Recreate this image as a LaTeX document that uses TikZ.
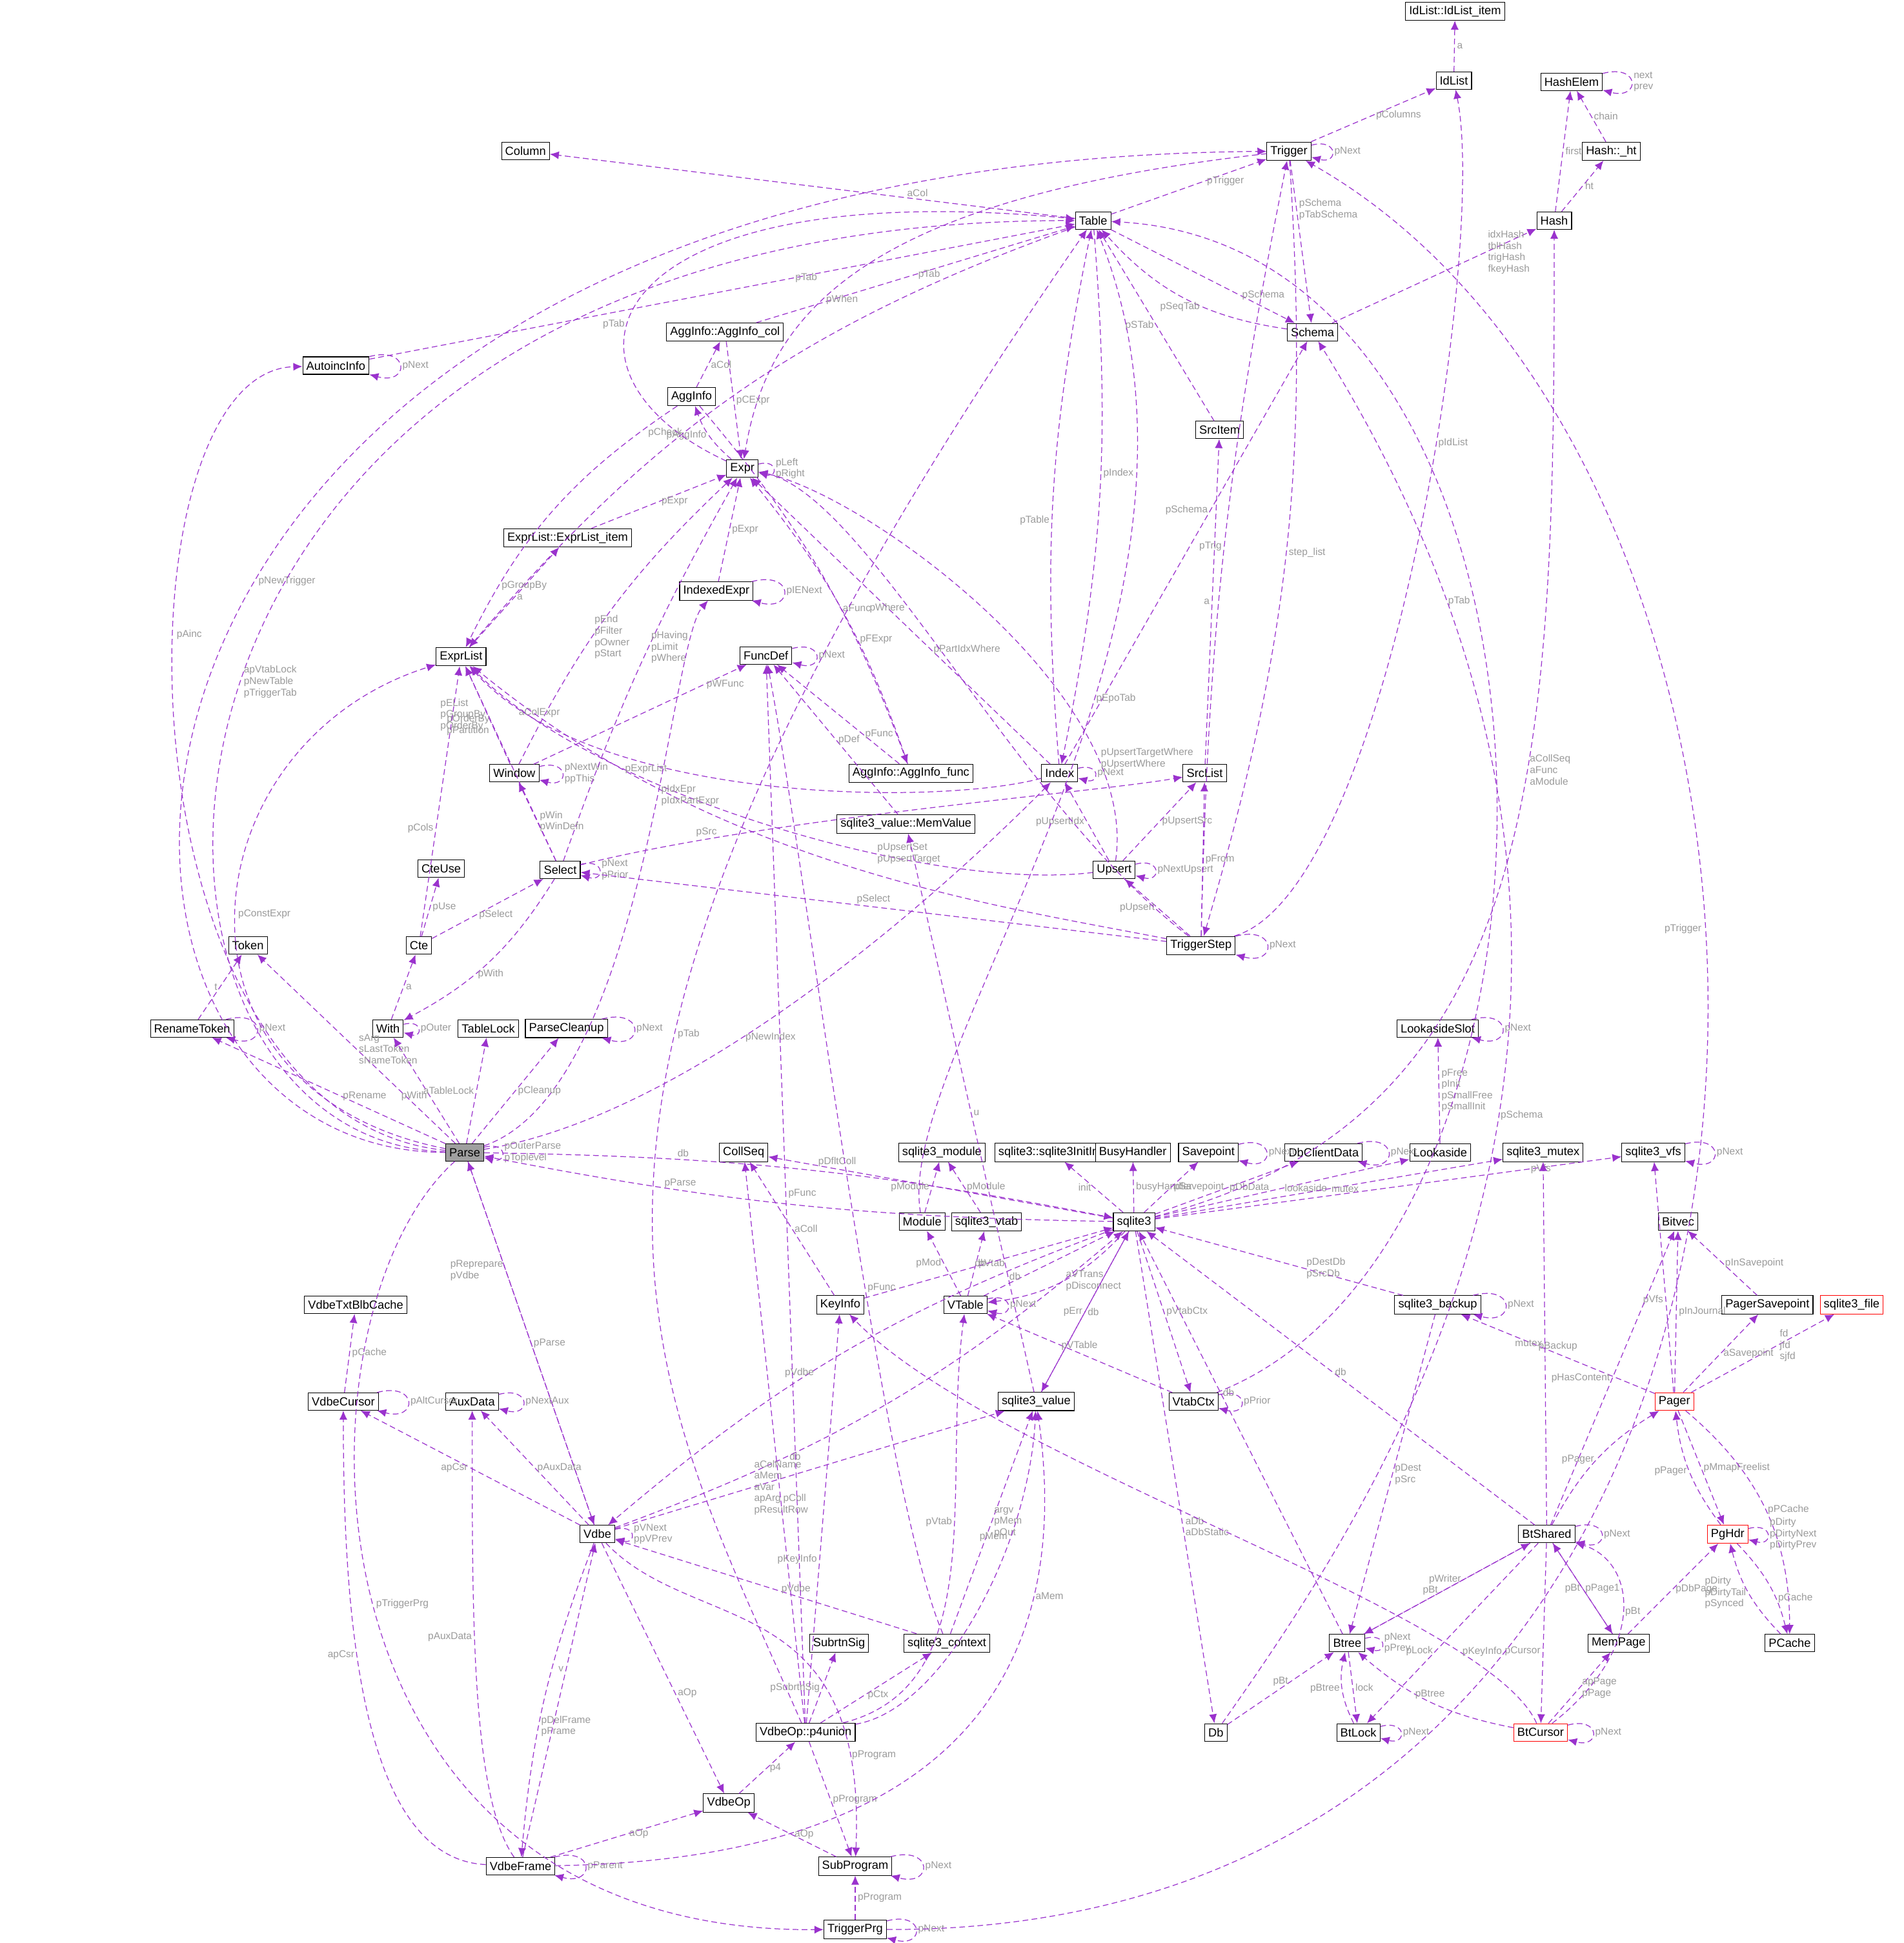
\documentclass[tikz,border=0pt]{standalone}
\usepackage{fontspec}
\setmainfont{Liberation Sans}
\usetikzlibrary{arrows.meta}
\definecolor{dxedge}{HTML}{9A32CD}
\definecolor{dxlbl}{HTML}{9A9A9A}
\tikzstyle{box} = [draw=black, fill=white, font=\fontsize{5.2}{6}\selectfont, inner sep=1.6pt, minimum height=0.27cm, line width=0.3pt]
\tikzstyle{edge} = [draw=dxedge, line width=0.35pt, -{Latex[length=4pt,width=3.5pt]}, dash pattern=on 2.5pt off 1.5pt]
\tikzstyle{lbl} = [font=\fontsize{4.4}{5}\selectfont, text=dxlbl, align=left, inner sep=1pt]
\tikzstyle{self} = [edge, loop right, min distance=2.5mm, looseness=6]

\begin{document}
\begin{tikzpicture}[x=0.0192cm, y=-0.0192cm]
\useasboundingbox (0,0) rectangle (1536,1568);

% nodes, top to bottom
\node[box] (IdListItem) at (1174,9) {IdList::IdList\_item};
\node[box] (IdList) at (1173,65) {IdList};
\node[box] (HashElem) at (1268,66) {HashElem};
\node[box] (HashHt) at (1300,122) {Hash::\_ht};
\node[box] (Column) at (424,122) {Column};
\node[box] (Trigger) at (1040,122) {Trigger};
\node[box] (Table) at (882,178) {Table};
\node[box] (Hash) at (1254,178) {Hash};
\node[box] (AggCol) at (585,268) {AggInfo::AggInfo\_col};
\node[box] (Schema) at (1059,268) {Schema};
\node[box] (Autoinc) at (271,295) {AutoincInfo};
\node[box] (AggInfo) at (558,320) {AggInfo};
\node[box] (SrcItem) at (984,347) {SrcItem};
\node[box] (Expr) at (599,378) {Expr};
\node[box] (ExprItem) at (458,434) {ExprList::ExprList\_item};
\node[box] (IdxExpr) at (578,477) {IndexedExpr};
\node[box] (FuncDef) at (618,529) {FuncDef};
\node[box] (ExprList) at (372,530) {ExprList};
\node[box] (Window) at (415,624) {Window};
\node[box] (AggFunc) at (735,624) {AggInfo::AggInfo\_func};
\node[box] (Index) at (855,624) {Index};
\node[box] (SrcList) at (972,624) {SrcList};
\node[box] (MemValue) at (731,665) {sqlite3\_value::MemValue};
\node[box] (CteUse) at (356,701) {CteUse};
\node[box] (Select) at (452,702) {Select};
\node[box] (Upsert) at (899,702) {Upsert};
\node[box] (Cte) at (338,763) {Cte};
\node[box] (Token) at (200,763) {Token};
\node[box] (TrigStep) at (969,763) {TriggerStep};
\node[box] (RenTok) at (155,830) {RenameToken};
\node[box] (With) at (313,830) {With};
\node[box] (TableLock) at (394,830) {TableLock};
\node[box] (Cleanup) at (457,830) {ParseCleanup};
\node[box] (LaSlot) at (1160,830) {LookasideSlot};
\node[box, fill=gray!75] (Parse) at (375,930) {Parse};
\node[box] (CollSeq) at (600,930) {CollSeq};
\node[box] (Mod3) at (760,930) {sqlite3\_module};
\node[box] (InitInfo) at (850,930) {sqlite3::sqlite3InitInfo};
\node[box] (Busy) at (914,930) {BusyHandler};
\node[box] (Savept) at (975,930) {Savepoint};
\node[box] (DbClient) at (1068,930) {DbClientData};
\node[box] (Lookaside) at (1162,930) {Lookaside};
\node[box] (Mutex) at (1245,930) {sqlite3\_mutex};
\node[box] (Vfs) at (1334,930) {sqlite3\_vfs};
\node[box] (Module) at (744,986) {Module};
\node[box] (Vtab) at (796,986) {sqlite3\_vtab};
\node[box] (Db3) at (915,986) {sqlite3};
\node[box] (Bitvec) at (1354,986) {Bitvec};
\node[box] (KeyInfo) at (678,1053) {KeyInfo};
\node[box] (VTable) at (779,1053) {VTable};
\node[box] (Backup) at (1160,1053) {sqlite3\_backup};
\node[box] (PagerSp) at (1426,1053) {PagerSavepoint};
\node[box, draw=red] (File) at (1494,1053) {sqlite3\_file};
\node[box] (TxtCache) at (287,1053) {VdbeTxtBlbCache};
\node[box] (Cursor) at (277,1131) {VdbeCursor};
\node[box] (AuxData) at (381,1131) {AuxData};
\node[box] (Value) at (836,1131) {sqlite3\_value};
\node[box] (VtabCtx) at (963,1131) {VtabCtx};
\node[box, draw=red] (Pager) at (1351,1131) {Pager};
\node[box] (Vdbe) at (482,1238) {Vdbe};
\node[box] (BtShared) at (1248,1238) {BtShared};
\node[box, draw=red] (PgHdr) at (1394,1238) {PgHdr};
\node[box] (SubSig) at (677,1326) {SubrtnSig};
\node[box] (Ctx) at (764,1326) {sqlite3\_context};
\node[box] (Btree) at (1087,1326) {Btree};
\node[box] (MemPage) at (1306,1326) {MemPage};
\node[box] (PCache) at (1444,1326) {PCache};
\node[box] (P4) at (650,1398) {VdbeOp::p4union};
\node[box] (Db) at (981,1398) {Db};
\node[box] (BtLock) at (1096,1398) {BtLock};
\node[box, draw=red] (BtCursor) at (1243,1398) {BtCursor};
\node[box] (VdbeOp) at (588,1455) {VdbeOp};
\node[box] (Frame) at (420,1506) {VdbeFrame};
\node[box] (SubProg) at (690,1506) {SubProgram};
\node[box] (TrigPrg) at (690,1557) {TriggerPrg};

% top area
\draw[edge] (IdList) -- node[lbl, right]{a} (IdListItem);
\draw[edge] (Trigger) -- node[lbl, right]{pColumns} (IdList);
\draw[edge] (HashElem) to[self] node[lbl, right]{next\\prev} (HashElem);
\draw[edge] (HashHt) -- node[lbl, right]{chain} (HashElem);
\draw[edge] (Hash) -- node[lbl, right]{first} (HashElem);
\draw[edge] (Hash) -- node[lbl, right]{ht} (HashHt);
\draw[edge] (Table) -- node[lbl, pos=0.3, above]{aCol} (Column);
\draw[edge] (Trigger) to[self] node[lbl, right]{pNext} (Trigger);
\draw[edge] (Table) -- node[lbl, right, pos=0.6]{pTrigger} (Trigger);
\draw[edge] (Trigger) -- node[lbl, right, pos=0.3]{pSchema\\pTabSchema} (Schema);
\draw[edge] (Schema) to[bend left=20] node[lbl, left, pos=0.4]{pSeqTab} (Table);
\draw[edge] (Table) -- node[lbl, right, pos=0.7]{pSchema} (Schema);
\draw[edge] (Schema) -- node[lbl, right, pos=0.75]{idxHash\\tblHash\\trigHash\\fkeyHash} (Hash);
\draw[edge] (AggCol) -- node[lbl, right]{pTab} (Table);
\draw[edge] (AggCol) -- node[lbl, right]{pCExpr} (Expr);
\draw[edge] (AggInfo) -- node[lbl, right]{aCol} (AggCol);
\draw[edge] (AggInfo) to[bend left=10] node[lbl, right, pos=0.6]{aFunc} (AggFunc);
\draw[edge] (Expr) to[bend left=15] node[lbl, left]{pAggInfo} (AggInfo);
\draw[edge] (Expr) to[self] node[lbl, right]{pLeft\\pRight} (Expr);
\draw[edge] (Expr) .. controls (430,300) and (480,140) .. node[lbl, left, pos=0.4]{pTab} (Table);
\draw[edge] (ExprItem) -- node[lbl, right]{pExpr} (Expr);
\draw[edge] (ExprList) -- node[lbl, right]{a} (ExprItem);
\draw[edge] (IdxExpr) -- node[lbl, right]{pExpr} (Expr);
\draw[edge] (IdxExpr) to[self] node[lbl, right]{pIENext} (IdxExpr);
\draw[edge] (FuncDef) to[self] node[lbl, right]{pNext} (FuncDef);
\draw[edge] (AggFunc) -- node[lbl, right, pos=0.3]{pFunc} (FuncDef);
\draw[edge] (AggFunc) to[bend right=10] node[lbl, right, pos=0.4]{pFExpr} (Expr);
\draw[edge] (Table) to[bend right=15] node[lbl, left, pos=0.6]{pCheck} (ExprList);
\draw[edge] (AggInfo) to[bend right=15] node[lbl, right, pos=0.8]{pGroupBy} (ExprList);

% middle
\draw[edge] (Window) -- node[lbl, left, pos=0.4]{pOrderBy\\pPartition} (ExprList);
\draw[edge] (Window) to[self] node[lbl, right]{pNextWin\\ppThis} (Window);
\draw[edge] (Window) to[bend left=10] node[lbl, right, pos=0.4]{pEnd\\pFilter\\pOwner\\pStart} (Expr);
\draw[edge] (Window) -- node[lbl, right, pos=0.8]{pWFunc} (FuncDef);
\draw[edge] (Index) to[bend left=8] node[lbl, left, pos=0.45]{pTable} (Table);
\draw[edge] (Table) to[bend left=8] node[lbl, right, pos=0.45]{pIndex} (Index);
\draw[edge] (Index) to[self] node[lbl, right]{pNext} (Index);
\draw[edge] (Index) -- node[lbl, right, pos=0.4]{pPartIdxWhere} (Expr);
\draw[edge] (Index) .. controls (760,650) and (480,650) .. node[lbl, above, pos=0.85]{aColExpr} (ExprList);
\draw[edge] (Index) -- node[lbl, left, pos=0.6]{pSchema} (Schema);
\draw[edge] (SrcItem) -- node[lbl, left, pos=0.5]{pSTab} (Table);
\draw[edge] (SrcList) -- node[lbl, left]{a} (SrcItem);
\draw[edge] (Select) -- node[lbl, left, pos=0.75]{pEList\\pGroupBy\\pOrderBy} (ExprList);
\draw[edge] (Select) to[bend left=5] node[lbl, right, pos=0.55]{pHaving\\pLimit\\pWhere} (Expr);
\draw[edge] (Select) to[self] node[lbl, right]{pNext\\pPrior} (Select);
\draw[edge] (Select) -- node[lbl, right]{pWin\\pWinDefn} (Window);
\draw[edge] (Select) .. controls (620,660) and (880,640) .. node[lbl, above, pos=0.2]{pSrc} (SrcList);
\draw[edge] (Select) to[bend left=15] node[lbl, right, pos=0.6]{pWith} (With);
\draw[edge] (Upsert) to[self] node[lbl, right]{pNextUpsert} (Upsert);
\draw[edge] (Upsert) .. controls (920,560) and (700,400) .. node[lbl, right, pos=0.2]{pUpsertTargetWhere\\pUpsertWhere} (Expr);
\draw[edge] (Upsert) .. controls (750,720) and (480,640) .. node[lbl, right, pos=0.35]{pUpsertSet\\pUpsertTarget} (ExprList);
\draw[edge] (Upsert) -- node[lbl, left, pos=0.5]{pUpsertIdx} (Index);
\draw[edge] (Upsert) -- node[lbl, right, pos=0.5]{pUpsertSrc} (SrcList);
\draw[edge] (Cte) -- node[lbl, right]{pUse} (CteUse);
\draw[edge] (Cte) -- node[lbl, right, pos=0.4]{pSelect} (Select);
\draw[edge] (Cte) -- node[lbl, left, pos=0.4]{pCols} (ExprList);
\draw[edge] (TrigStep) to[bend left=5] node[lbl, left, pos=0.5]{pTrig} (Trigger);
\draw[edge] (Trigger) to[bend left=10] node[lbl, right, pos=0.5]{step\_list} (TrigStep);
\draw[edge] (Trigger) .. controls (700,160) and (620,250) .. node[lbl, right, pos=0.6]{pWhen} (Expr);
\draw[edge] (TrigStep) .. controls (1120,720) and (1200,200) .. node[lbl, right, pos=0.6]{pIdList} (IdList);
\draw[edge] (TrigStep) to[self] node[lbl, right]{pNext} (TrigStep);
\draw[edge] (TrigStep) -- node[lbl, above, pos=0.5]{pSelect} (Select);
\draw[edge] (TrigStep) -- node[lbl, left, pos=0.5]{pUpsert} (Upsert);
\draw[edge] (TrigStep) -- node[lbl, right, pos=0.5]{pFrom} (SrcList);
\draw[edge] (TrigStep) .. controls (800,730) and (580,700) .. node[lbl, right, pos=0.8]{pExprList} (ExprList);
\draw[edge] (TrigStep) .. controls (820,650) and (700,400) .. node[lbl, left, pos=0.6]{pWhere} (Expr);
\draw[edge] (RenTok) -- node[lbl, left]{t} (Token);
\draw[edge] (RenTok) to[self] node[lbl, right]{pNext} (RenTok);
\draw[edge] (With) -- node[lbl, right]{a} (Cte);
\draw[edge] (With) to[self] node[lbl, right]{pOuter} (With);
\draw[edge] (Cleanup) to[self] node[lbl, right]{pNext} (Cleanup);
\draw[edge] (LaSlot) to[self] node[lbl, right]{pNext} (LaSlot);
\draw[edge] (Lookaside) -- node[lbl, right]{pFree\\pInit\\pSmallFree\\pSmallInit} (LaSlot);

% Parse
\draw[edge] (Parse) .. controls (5,930) and (5,130) .. node[lbl, right, pos=0.55]{pNewTrigger} (Trigger);
\draw[edge] (Parse) .. controls (55,920) and (55,178) .. node[lbl, right, pos=0.5]{apVtabLock\\pNewTable\\pTriggerTab} (Table);
\draw[edge] (Parse) .. controls (90,900) and (90,300) .. node[lbl, right, pos=0.6]{pAinc} (Autoinc);
\draw[edge] (Autoinc) -- node[lbl, right, pos=0.6]{pTab} (Table);
\draw[edge] (Autoinc) to[self] node[lbl, right]{pNext} (Autoinc);
\draw[edge] (Parse) .. controls (120,880) and (150,600) .. node[lbl, right, pos=0.5]{pConstExpr} (ExprList);
\draw[edge] (Parse) .. controls (520,880) and (540,520) .. node[lbl, right, pos=0.6]{pIdxEpr\\pIdxPartExpr} (IdxExpr);
\draw[edge] (Parse) .. controls (560,900) and (760,720) .. node[lbl, right, pos=0.4]{pNewIndex} (Index);
\draw[edge] (Parse) -- node[lbl, right, pos=0.5]{sArg\\sLastToken\\sNameToken} (Token);
\draw[edge] (Parse) -- node[lbl, right, pos=0.45]{pRename} (RenTok);
\draw[edge] (Parse) -- node[lbl, left, pos=0.45]{pWith} (With);
\draw[edge] (Parse) -- node[lbl, left, pos=0.5]{aTableLock} (TableLock);
\draw[edge] (Parse) -- node[lbl, right, pos=0.5]{pCleanup} (Cleanup);
\draw[edge] (Parse) to[self] node[lbl, right]{pOuterParse\\pToplevel} (Parse);
\draw[edge] (Parse) to[bend left=5] node[lbl, above, pos=0.3]{db} (Db3);
\draw[edge] (Db3) to[bend left=5] node[lbl, above, pos=0.7]{pParse} (Parse);
\draw[edge] (Parse) -- node[lbl, left, pos=0.3]{pReprepare\\pVdbe} (Vdbe);
\draw[edge] (Vdbe) -- node[lbl, right, pos=0.5]{pParse} (Parse);
\draw[edge] (Parse) .. controls (230,1060) and (230,1560) .. node[lbl, right, pos=0.5]{pTriggerPrg} (TrigPrg);

% sqlite3
\draw[edge] (Db3) -- node[lbl, above, pos=0.8]{pDfltColl} (CollSeq);
\draw[edge] (Module) -- node[lbl, left]{pModule} (Mod3);
\draw[edge] (Vtab) -- node[lbl, right]{pModule} (Mod3);
\draw[edge] (Db3) -- node[lbl, left]{init} (InitInfo);
\draw[edge] (Db3) -- node[lbl, right]{busyHandler} (Busy);
\draw[edge] (Db3) -- node[lbl, right]{pSavepoint} (Savept);
\draw[edge] (Savept) to[self] node[lbl, right]{pNext} (Savept);
\draw[edge] (Db3) -- node[lbl, right]{pDbData} (DbClient);
\draw[edge] (DbClient) to[self] node[lbl, right]{pNext} (DbClient);
\draw[edge] (Db3) -- node[lbl, right]{lookaside} (Lookaside);
\draw[edge] (Db3) -- node[lbl, right]{mutex} (Mutex);
\draw[edge] (Db3) -- node[lbl, right, pos=0.8]{pVfs} (Vfs);
\draw[edge] (Vfs) to[self] node[lbl, right]{pNext} (Vfs);
\draw[edge] (Db3) .. controls (1250,900) and (1254,600) .. node[lbl, right, pos=0.6]{aCollSeq\\aFunc\\aModule} (Hash);
\draw[edge] (Db3) to[bend left=20] node[lbl, right, pos=0.5]{aVTrans\\pDisconnect} (VTable);
\draw[edge] (Db3) -- node[lbl, right, pos=0.6]{aDb\\aDbStatic} (Db);
\draw[edge] (Db3) -- node[lbl, left, pos=0.5]{pErr} (Value);
\draw[edge] (Db3) -- node[lbl, right, pos=0.5]{pVtabCtx} (VtabCtx);
\draw[edge] (Db3) to[bend right=10] node[lbl, above, pos=0.6]{pVdbe} (Vdbe);
\draw[edge] (Vdbe) to[bend right=10] node[lbl, right, pos=0.3]{db} (Db3);
\draw[edge] (Module) .. controls (720,850) and (1010,500) .. node[lbl, right, pos=0.6]{pEpoTab} (Table);
\draw[edge] (VTable) -- node[lbl, left, pos=0.3]{db} (Db3);
\draw[edge] (VTable) -- node[lbl, left]{pMod} (Module);
\draw[edge] (VTable) -- node[lbl, right]{pVtab} (Vtab);
\draw[edge] (VTable) to[self] node[lbl, right]{pNext} (VTable);
\draw[edge] (VtabCtx) -- node[lbl, above, pos=0.5]{pVTable} (VTable);
\draw[edge] (VtabCtx) .. controls (1300,1000) and (1290,200) .. node[lbl, left, pos=0.6]{pTab} (Table);
\draw[edge] (VtabCtx) to[self] node[lbl, right]{pPrior} (VtabCtx);
\draw[edge] (KeyInfo) -- node[lbl, right]{aColl} (CollSeq);
\draw[edge] (KeyInfo) -- node[lbl, left, pos=0.5]{db} (Db3);
\draw[edge] (Backup) -- node[lbl, right, pos=0.4]{pDestDb\\pSrcDb} (Db3);
\draw[edge] (Backup) to[self] node[lbl, right]{pNext} (Backup);
\draw[edge] (Backup) -- node[lbl, right, pos=0.5]{pDest\\pSrc} (Btree);

% pager side
\draw[edge] (PagerSp) -- node[lbl, right]{pInSavepoint} (Bitvec);
\draw[edge] (Pager) -- node[lbl, right, pos=0.6]{fd\\jfd\\sjfd} (File);
\draw[edge] (Pager) -- node[lbl, left, pos=0.4]{pVfs} (Vfs);
\draw[edge] (Pager) -- node[lbl, right, pos=0.5]{pInJournal} (Bitvec);
\draw[edge] (Pager) -- node[lbl, right, pos=0.5]{aSavepoint} (PagerSp);
\draw[edge] (Pager) -- node[lbl, above, pos=0.5]{pBackup} (Backup);
\draw[edge] (Pager) -- node[lbl, right, pos=0.5]{pMmapFreelist} (PgHdr);
\draw[edge] (Pager) to[bend left=25] node[lbl, right, pos=0.5]{pPCache} (PCache);
\draw[edge] (Cursor) -- node[lbl, right]{pCache} (TxtCache);
\draw[edge] (Cursor) to[self] node[lbl, right]{pAltCursor} (Cursor);
\draw[edge] (AuxData) to[self] node[lbl, right]{pNextAux} (AuxData);
\draw[edge] (Value) -- node[lbl, right, pos=0.5]{db} (Db3);
\draw[edge] (Value) -- node[lbl, right, pos=0.5]{u} (MemValue);
\draw[edge] (MemValue) -- node[lbl, right, pos=0.5]{pDef} (FuncDef);
\draw[edge] (Vdbe) -- node[lbl, right, pos=0.35]{aColName\\aMem\\aVar\\apArg\\pResultRow} (Value);
\draw[edge] (Vdbe) -- node[lbl, left, pos=0.5]{apCsr} (Cursor);
\draw[edge] (Vdbe) -- node[lbl, right, pos=0.5]{pAuxData} (AuxData);
\draw[edge] (Vdbe) to[self] node[lbl, right]{pVNext\\ppVPrev} (Vdbe);
\draw[edge] (Vdbe) -- node[lbl, right, pos=0.6]{aOp} (VdbeOp);
\draw[edge] (Vdbe) to[bend right=8] node[lbl, right, pos=0.6]{pDelFrame\\pFrame} (Frame);
\draw[edge] (Vdbe) .. controls (560,1320) and (700,1280) .. node[lbl, right, pos=0.85]{pProgram} (SubProg);
\draw[edge] (BtShared) -- node[lbl, above, pos=0.5]{db} (Db3);
\draw[edge] (BtShared) to[bend left=15] node[lbl, left, pos=0.5]{pPager} (Pager);
\draw[edge] (BtShared) to[self] node[lbl, right]{pNext} (BtShared);
\draw[edge] (BtShared) -- node[lbl, left, pos=0.5]{pHasContent} (Bitvec);
\draw[edge] (BtShared) -- node[lbl, left, pos=0.5]{mutex} (Mutex);
\draw[edge] (BtShared) -- node[lbl, right, pos=0.5]{pPage1} (MemPage);
\draw[edge] (BtShared) -- node[lbl, left, pos=0.6]{pCursor} (BtCursor);
\draw[edge] (BtShared) -- node[lbl, left, pos=0.6]{pLock} (BtLock);
\draw[edge] (BtShared) -- node[lbl, left, pos=0.4]{pWriter} (Btree);
\draw[edge] (Db) .. controls (1120,1200) and (1390,800) .. node[lbl, right, pos=0.55]{pSchema} (Schema);
\draw[edge] (PgHdr) to[bend left=15] node[lbl, left, pos=0.5]{pPager} (Pager);
\draw[edge] (PgHdr) to[self] node[lbl, right]{pDirty\\pDirtyNext\\pDirtyPrev} (PgHdr);
\draw[edge] (PgHdr) to[bend left=15] node[lbl, right, pos=0.65]{pCache} (PCache);
\draw[edge] (PCache) to[bend left=15] node[lbl, left, pos=0.5]{pDirty\\pDirtyTail\\pSynced} (PgHdr);
\draw[edge] (MemPage) -- node[lbl, right, pos=0.5]{pDbPage} (PgHdr);
\draw[edge] (MemPage) -- node[lbl, left, pos=0.5]{pBt} (BtShared);
\draw[edge] (Ctx) -- node[lbl, above, pos=0.4]{pVdbe} (Vdbe);
\draw[edge] (Ctx) -- node[lbl, right, pos=0.5]{argv\\pMem\\pOut} (Value);
\draw[edge] (Ctx) .. controls (710,1200) and (650,700) .. node[lbl, right, pos=0.4]{pFunc} (FuncDef);
\draw[edge] (Btree) -- node[lbl, right, pos=0.6]{db} (Db3);
\draw[edge] (Btree) -- node[lbl, above, pos=0.4]{pBt} (BtShared);
\draw[edge] (Btree) to[self] node[lbl, right]{pNext\\pPrev} (Btree);
\draw[edge] (Btree) -- node[lbl, right, pos=0.5]{lock} (BtLock);
\draw[edge] (BtLock) to[bend left=20] node[lbl, left, pos=0.5]{pBtree} (Btree);
\draw[edge] (BtLock) to[self] node[lbl, right]{pNext} (BtLock);
\draw[edge] (Db) -- node[lbl, above, pos=0.5]{pBt} (Btree);
\draw[edge] (BtCursor) to[bend left=15] node[lbl, above, pos=0.5]{pBtree} (Btree);
\draw[edge] (BtCursor) .. controls (1330,1330) and (1320,1260) .. node[lbl, right, pos=0.5]{pBt} (BtShared);
\draw[edge] (BtCursor) -- node[lbl, right, pos=0.5]{apPage\\pPage} (MemPage);
\draw[edge] (BtCursor) .. controls (1200,1300) and (800,1180) .. node[lbl, right, pos=0.2]{pKeyInfo} (KeyInfo);
\draw[edge] (BtCursor) to[self] node[lbl, right]{pNext} (BtCursor);

% VdbeOp::p4union and bottom
\draw[edge] (P4) -- node[lbl, right, pos=0.4]{pColl} (CollSeq);
\draw[edge] (P4) -- node[lbl, left, pos=0.4]{pKeyInfo} (KeyInfo);
\draw[edge] (P4) -- node[lbl, right, pos=0.5]{pFunc} (FuncDef);
\draw[edge] (P4) .. controls (760,1380) and (830,1250) .. node[lbl, left, pos=0.7]{pMem} (Value);
\draw[edge] (P4) .. controls (800,1360) and (760,1200) .. node[lbl, left, pos=0.6]{pVtab} (VTable);
\draw[edge] (P4) -- node[lbl, left, pos=0.5]{pSubrtnSig} (SubSig);
\draw[edge] (P4) -- node[lbl, right, pos=0.4]{pCtx} (Ctx);
\draw[edge] (P4) -- node[lbl, right, pos=0.5]{pProgram} (SubProg);
\draw[edge] (P4) .. controls (520,1100) and (380,900) .. node[lbl, right, pos=0.6]{pTab} (Table);
\draw[edge] (VdbeOp) -- node[lbl, right, pos=0.5]{p4} (P4);
\draw[edge] (Frame) -- node[lbl, left, pos=0.6]{v} (Vdbe);
\draw[edge] (Frame) -- node[lbl, right, pos=0.5]{aOp} (VdbeOp);
\draw[edge] (Frame) to[self] node[lbl, right]{pParent} (Frame);
\draw[edge] (Frame) .. controls (290,1500) and (277,1300) .. node[lbl, left, pos=0.6]{apCsr} (Cursor);
\draw[edge] (Frame) .. controls (380,1450) and (381,1300) .. node[lbl, left, pos=0.6]{pAuxData} (AuxData);
\draw[edge] (Frame) .. controls (820,1500) and (860,1300) .. node[lbl, right, pos=0.7]{aMem} (Value);
\draw[edge] (SubProg) -- node[lbl, right, pos=0.5]{aOp} (VdbeOp);
\draw[edge] (SubProg) to[self] node[lbl, right]{pNext} (SubProg);
\draw[edge] (TrigPrg) -- node[lbl, right, pos=0.5]{pProgram} (SubProg);
\draw[edge] (TrigPrg) to[self] node[lbl, right]{pNext} (TrigPrg);
\draw[edge] (TrigPrg) .. controls (1530,1560) and (1530,400) .. node[lbl, left, pos=0.6]{pTrigger} (Trigger);

\end{tikzpicture}
\end{document}
